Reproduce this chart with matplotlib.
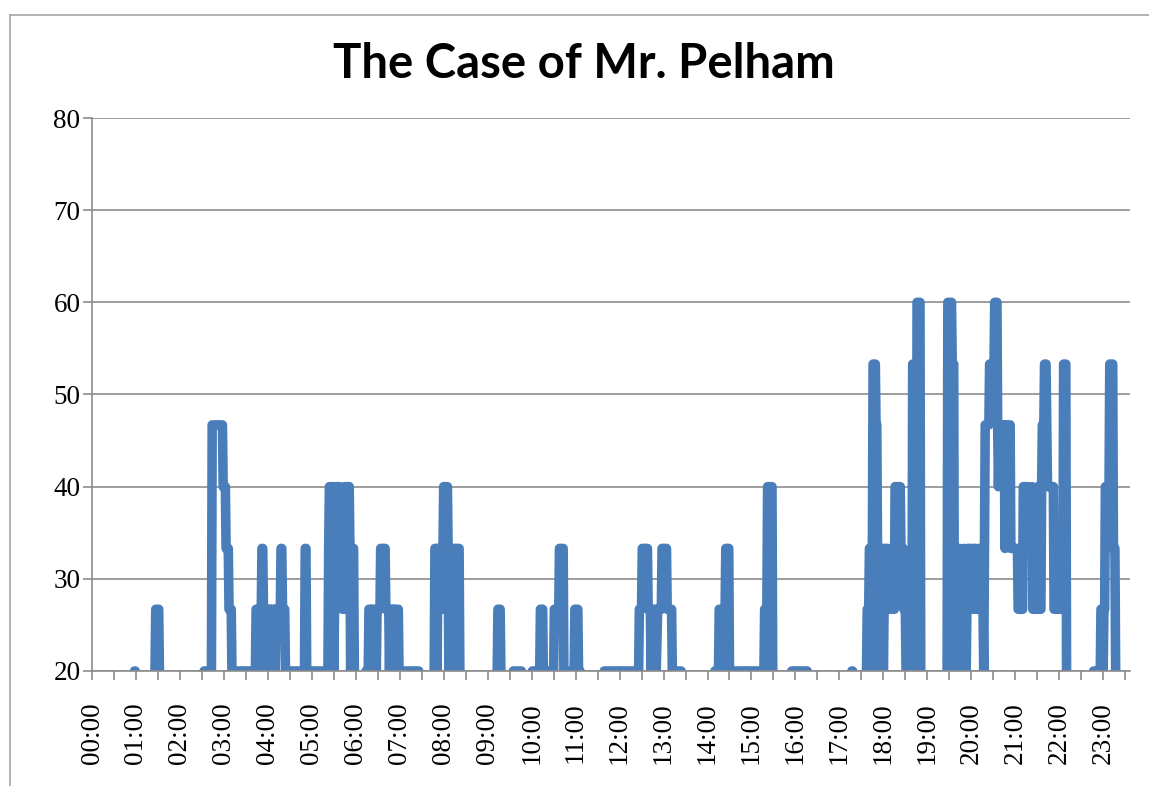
import matplotlib
matplotlib.use("Agg")
import matplotlib.pyplot as plt
from matplotlib.lines import Line2D
import numpy as np

title = "The Case of Mr. Pelham"
hour_labels = [f"{h:02d}:00" for h in range(24)]
y_ticks = [20, 30, 40, 50, 60, 70, 80]

# readings as (time, value); None marks a break in the recording
times = [
    "00:58", "00:59", None,
    "01:26", "01:27", "01:31", "01:32", None,
    "02:33", "02:43", "02:44", "02:58", "02:59", "03:02", "03:03", "03:06", "03:07", "03:10",
    "03:11", "03:43", "03:44", "03:46", "03:47", "03:48", "03:51", "03:52", "03:53", "03:54",
    "03:56", "03:57", "03:58", "04:03", "04:04", "04:05", "04:09", "04:10", "04:11", "04:17",
    "04:18", "04:19", "04:20", "04:23", "04:24", "04:50", "04:51", "04:52", "04:53", "05:22",
    "05:23", "05:24", "05:28", "05:29", "05:30", "05:32", "05:33", "05:38", "05:40", "05:42",
    "05:44", "05:45", "05:51", "05:52", "05:53", "05:55", "05:57", "05:58", None,
    "06:14", "06:17", "06:18", "06:21", "06:22", "06:23", "06:27", "06:28", "06:29", "06:33",
    "06:34", "06:40", "06:41", "06:45", "06:46", "06:47", "06:51", "06:52", "06:53", "06:58",
    "06:59", "07:26", None,
    "07:47", "07:48", "07:50", "07:51", "07:52", "07:54", "07:55", "07:58", "07:59", "08:00",
    "08:05", "08:06", "08:07", "08:09", "08:12", "08:14", "08:16", "08:17", "08:19", "08:21",
    "08:22", None,
    "09:13", "09:14", "09:17", "09:18", None,
    "09:35", "09:46", None,
    "10:01", "10:11", "10:12", "10:15", "10:16", "10:30", "10:31", "10:37", "10:38", "10:43",
    "10:44", "10:58", "10:59", "11:03", "11:04", "11:06", None,
    "11:39", "12:26", "12:27", "12:30", "12:31", "12:38", "12:39", "12:42", "12:43", "12:45",
    "12:49", "12:50", "12:52", "12:57", "12:58", "13:04", "13:05", "13:11", "13:12", "13:24", None,
    "14:10", "14:15", "14:16", "14:19", "14:20", "14:21", "14:24", "14:25", "14:29", "14:30",
    "15:17", "15:18", "15:21", "15:22", "15:28", "15:29", None,
    "15:55", "16:16", None,
    "17:17", "17:18", None,
    "17:37", "17:38", "17:40", "17:41", "17:43", "17:44", "17:45", "17:46", "17:49", "17:50",
    "17:51", "17:52", "17:53", "17:55", "17:59", "18:00", "18:02", "18:06", "18:07", "18:10",
    "18:11", "18:12", "18:15", "18:16", "18:23", "18:24", "18:27", "18:28", "18:30", "18:31",
    "18:39", "18:40", "18:42", "18:43", "18:45", "18:46", "18:50", "18:51", None,
    "19:27", "19:28", "19:33", "19:34", "19:36", "19:37", "19:39", "19:42", "19:44", "19:48",
    "19:50", "19:53", "19:55", "19:59", "20:00", "20:02", "20:03", "20:06", "20:07", "20:10",
    "20:11", "20:13", "20:14", "20:16", "20:17", "20:18", "20:19", "20:24", "20:25", "20:31",
    "20:32", "20:35", "20:36", "20:37", "20:39", "20:41", "20:42", "20:43", "20:45", "20:46",
    "20:47", "20:53", "20:54", "21:03", "21:04", "21:10", "21:11", "21:17", "21:18", "21:22",
    "21:23", "21:24", "21:30", "21:31", "21:33", "21:35", "21:36", "21:37", "21:39", "21:40",
    "21:42", "21:43", "21:44", "21:52", "21:53", "22:05", "22:06", "22:09", "22:10", None,
    "22:47", "22:56", "22:57", "22:59", "23:00", "23:01", "23:02", "23:03", "23:08", "23:09",
    "23:13", "23:14", "23:16", "23:17",
]
values = [
    20, 20, None,
    20, 26.7, 26.7, 20, None,
    20, 20, 46.7, 46.7, 40, 40, 33.3, 33.3, 26.7, 26.7,
    20, 20, 26.7, 26.7, 20, 26.7, 26.7, 33.3, 33.3, 26.7,
    26.7, 20, 26.7, 26.7, 20, 26.7, 26.7, 20, 26.7, 26.7,
    33.3, 33.3, 26.7, 26.7, 20, 20, 33.3, 33.3, 20, 20,
    33.3, 40, 40, 33.3, 20, 33.3, 40, 40, 33.3, 26.7,
    26.7, 40, 40, 33.3, 20, 33.3, 33.3, 20, None,
    20, 20, 26.7, 26.7, 20, 26.7, 26.7, 20, 26.7, 26.7,
    33.3, 33.3, 26.7, 26.7, 20, 26.7, 26.7, 20, 26.7, 26.7,
    20, 20, None,
    20, 33.3, 33.3, 20, 33.3, 33.3, 26.7, 26.7, 33.3, 40,
    40, 33.3, 20, 33.3, 20, 33.3, 33.3, 20, 33.3, 33.3,
    20, None,
    20, 26.7, 26.7, 20, None,
    20, 20, None,
    20, 20, 26.7, 26.7, 20, 20, 26.7, 26.7, 33.3, 33.3,
    20, 20, 26.7, 26.7, 20, 20, None,
    20, 20, 26.7, 26.7, 33.3, 33.3, 26.7, 26.7, 20, 26.7,
    26.7, 20, 26.7, 26.7, 33.3, 33.3, 26.7, 26.7, 20, 20, None,
    20, 20, 26.7, 26.7, 20, 26.7, 26.7, 33.3, 33.3, 20,
    20, 26.7, 26.7, 40, 40, 20, None,
    20, 20, None,
    20, 20, None,
    20, 26.7, 26.7, 33.3, 33.3, 20, 33.3, 53.3, 53.3, 46.7,
    46.7, 33.3, 20, 33.3, 33.3, 20, 33.3, 33.3, 26.7, 26.7,
    33.3, 26.7, 26.7, 40, 40, 33.3, 33.3, 26.7, 26.7, 20,
    20, 53.3, 53.3, 20, 20, 60, 60, 20, None,
    20, 60, 60, 53.3, 53.3, 20, 33.3, 20, 33.3, 20,
    33.3, 20, 33.3, 33.3, 26.7, 26.7, 33.3, 33.3, 26.7, 26.7,
    33.3, 33.3, 26.7, 26.7, 20, 33.3, 46.7, 46.7, 53.3, 53.3,
    60, 60, 46.7, 40, 46.7, 46.7, 40, 46.7, 46.7, 33.3,
    46.7, 46.7, 33.3, 33.3, 26.7, 26.7, 40, 40, 33.3, 33.3,
    40, 26.7, 26.7, 40, 26.7, 26.7, 40, 46.7, 46.7, 53.3,
    53.3, 46.7, 40, 40, 26.7, 26.7, 53.3, 53.3, 20, None,
    20, 20, 26.7, 26.7, 20, 26.7, 26.7, 40, 40, 53.3,
    53.3, 33.3, 33.3, 20,
]
assert len(times) == len(values)


def to_hours(t):
    if t is None:
        return np.nan
    hh, mm = t.split(":")
    return int(hh) + int(mm) / 60


x = np.array([to_hours(t) for t in times])
y = np.array([np.nan if v is None else v for v in values], dtype=float)

grey = "#8C8C8C"
blue = "#4A7EBB"

fig = plt.figure(figsize=(11.49, 7.86), dpi=100)
ax = fig.add_axes([92 / 1149, 1 - 671 / 786, (1130 - 92) / 1149, (671 - 118) / 786])

ax.plot(x, y, color=blue, lw=6.9, solid_capstyle="round", solid_joinstyle="round", zorder=2)

ax.set_xlim(0, 23.61)
ax.set_ylim(20, 80)
ax.set_yticks(y_ticks)
ax.set_xticks(range(24))
ax.set_xticklabels(hour_labels, rotation=90)
ax.set_xticks(np.arange(0.5, 23.6, 1.0), minor=True)

ax.set_axisbelow(True)
ax.yaxis.grid(True, color=grey, lw=1.2)
for side in ["top", "right"]:
    ax.spines[side].set_visible(False)
for side in ["left", "bottom"]:
    ax.spines[side].set_color(grey)
    ax.spines[side].set_linewidth(1.2)

ax.tick_params(axis="both", which="both", direction="out", length=6.3, width=1.2, color=grey)
ax.tick_params(axis="x", which="major", pad=16)
ax.tick_params(axis="y", pad=2)
for lab in ax.get_xticklabels() + ax.get_yticklabels():
    lab.set_fontfamily("Liberation Serif")
    lab.set_fontsize(19.5)

fig.text(0.508, 1 - 78 / 786, title, ha="center", va="baseline",
         fontfamily="Lato", fontweight="bold", fontsize=34)

# outer chart frame
fig.add_artist(Line2D([10 / 1149, 10 / 1149], [0, 1 - 15 / 786], color="#A6A6A6", lw=1.2))
fig.add_artist(Line2D([10 / 1149, 1], [1 - 15 / 786, 1 - 15 / 786], color="#A6A6A6", lw=1.2))

fig.savefig("out.png", dpi=100)
